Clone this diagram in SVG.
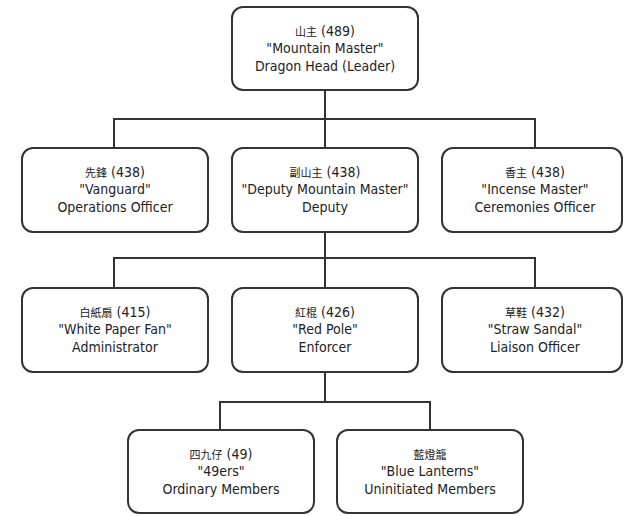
<svg xmlns="http://www.w3.org/2000/svg" width="624" height="516" viewBox="0 0 624 516">
<style>
.box{fill:#fff;stroke:#333;stroke-width:2}
.con{fill:none;stroke:#333;stroke-width:2}
text{font-family:"DejaVu Sans Condensed","DejaVu Sans",sans-serif;font-size:14px;fill:#222;text-anchor:middle}
.zh{font-family:"Noto Sans CJK TC","Noto Sans CJK SC",sans-serif;font-size:11px}
</style>
<rect width="624" height="516" fill="#fff"/>
<g id="connectors">
<path class="con" d="M325 90V119M114 148V119H535V148M325 119V148"/>
<path class="con" d="M325 232V258M114 288V258H535V288M325 258V288"/>
<path class="con" d="M325 372V402M220 430V402H430V430"/>
</g>
<g id="mountain-master">
<rect class="box" x="232" y="7" width="186" height="83" rx="11"/>
<text x="325" y="36"><tspan class="zh">山主</tspan> (489)</text>
<text x="325" y="53">"Mountain Master"</text>
<text x="325" y="71">Dragon Head (Leader)</text>
</g>
<g id="vanguard">
<rect class="box" x="22" y="148" width="186" height="84" rx="11"/>
<text x="115" y="177"><tspan class="zh">先鋒</tspan> (438)</text>
<text x="115" y="194">"Vanguard"</text>
<text x="115" y="212">Operations Officer</text>
</g>
<g id="deputy">
<rect class="box" x="232" y="148" width="186" height="84" rx="11"/>
<text x="325" y="177"><tspan class="zh">副山主</tspan> (438)</text>
<text x="325" y="194">"Deputy Mountain Master"</text>
<text x="325" y="212">Deputy</text>
</g>
<g id="incense-master">
<rect class="box" x="442" y="148" width="180" height="84" rx="11"/>
<text x="535" y="177"><tspan class="zh">香主</tspan> (438)</text>
<text x="535" y="194">"Incense Master"</text>
<text x="535" y="212">Ceremonies Officer</text>
</g>
<g id="white-paper-fan">
<rect class="box" x="22" y="288" width="186" height="84" rx="11"/>
<text x="115" y="317"><tspan class="zh">白紙扇</tspan> (415)</text>
<text x="115" y="334">"White Paper Fan"</text>
<text x="115" y="352">Administrator</text>
</g>
<g id="red-pole">
<rect class="box" x="232" y="288" width="186" height="84" rx="11"/>
<text x="325" y="317"><tspan class="zh">紅棍</tspan> (426)</text>
<text x="325" y="334">"Red Pole"</text>
<text x="325" y="352">Enforcer</text>
</g>
<g id="straw-sandal">
<rect class="box" x="442" y="288" width="180" height="84" rx="11"/>
<text x="535" y="317"><tspan class="zh">草鞋</tspan> (432)</text>
<text x="535" y="334">"Straw Sandal"</text>
<text x="535" y="352">Liaison Officer</text>
</g>
<g id="forty-niners">
<rect class="box" x="128" y="430" width="186" height="83" rx="11"/>
<text x="221" y="459"><tspan class="zh">四九仔</tspan> (49)</text>
<text x="221" y="476">"49ers"</text>
<text x="221" y="494">Ordinary Members</text>
</g>
<g id="blue-lanterns">
<rect class="box" x="337" y="430" width="186" height="83" rx="11"/>
<text x="430" y="459" class="zh">藍燈籠</text>
<text x="430" y="476">"Blue Lanterns"</text>
<text x="430" y="494">Uninitiated Members</text>
</g>
</svg>
